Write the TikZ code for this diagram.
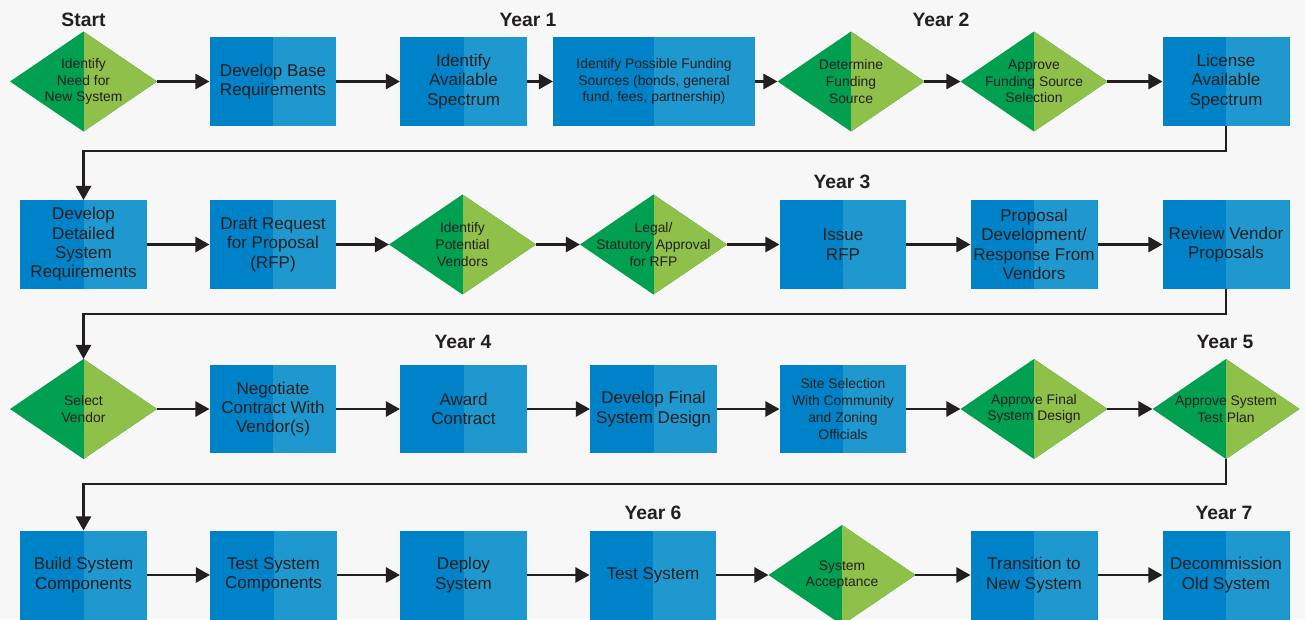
\documentclass[tikz,border=0pt]{standalone}
\usepackage{fontspec}
\setmainfont{Liberation Sans}
\usetikzlibrary{shapes.geometric,arrows.meta}
\definecolor{bluedk}{HTML}{0082C8}
\definecolor{bluelt}{HTML}{1E98CE}
\definecolor{greendk}{HTML}{00A050}
\definecolor{greenlt}{HTML}{8EC04A}
\definecolor{ink}{HTML}{231F20}
\definecolor{paper}{HTML}{F7F7F7}
\begin{document}
\begin{tikzpicture}[x=0.02cm,y=-0.02cm,
  box/.style={rectangle,fill=bluedk,minimum width=2.54cm,minimum height=1.78cm,
    inner sep=0pt,outer sep=0pt,align=center,text=ink,font=\fontsize{9.7}{11}\selectfont,
    path picture={\fill[bluelt] (path picture bounding box.north) rectangle (path picture bounding box.south east);}},
  dia/.style={diamond,fill=greendk,minimum width=2.94cm,minimum height=2cm,
    inner sep=-14pt,outer sep=0pt,align=center,text=ink,font=\fontsize{7.9}{9.5}\selectfont,
    path picture={\fill[greenlt] (path picture bounding box.north) rectangle (path picture bounding box.south east);}},
  smalltext/.style={font=\fontsize{7.9}{9.5}\selectfont},
  yearlbl/.style={anchor=base,text=ink,font=\fontsize{11}{13}\selectfont\bfseries},
  flow/.style={draw=ink,line width=1.6pt,-{Triangle[length=8pt,width=8.5pt]}}]

  % background
  \fill[paper] (0,0) rectangle (1305,619);
  \useasboundingbox (0,0) rectangle (1305,619);

  % year labels
  \node[yearlbl] (start) at (83.5,26) {Start};
  \node[yearlbl] (yr1) at (528,26) {Year 1};
  \node[yearlbl] (yr2) at (941,26) {Year 2};
  \node[yearlbl] (yr3) at (842,188) {Year 3};
  \node[yearlbl] (yr4) at (463,348) {Year 4};
  \node[yearlbl] (yr5) at (1225,348) {Year 5};
  \node[yearlbl] (yr6) at (653,519) {Year 6};
  \node[yearlbl] (yr7) at (1224,519) {Year 7};

  % row 1
  \node[dia] (need) at (83.5,81.5) {Identify\\Need for\\New System};
  \node[box] (basereq) at (273,81.5) {Develop Base\\Requirements};
  \node[box] (spectrum) at (463.5,81.5) {Identify\\Available\\Spectrum};
  \node[box,smalltext,minimum width=4.04cm] (funding) at (654,81.5) {Identify Possible Funding\\Sources (bonds, general\\fund, fees, partnership)};
  \node[dia] (detfund) at (851,81.5) {Determine\\Funding\\Source};
  \node[dia] (appfund) at (1034,81.5) {Approve\\Funding Source\\Selection};
  \node[box] (license) at (1226,81.5) {License\\Available\\Spectrum};

  % row 2
  \node[box] (detreq) at (83.5,244.5) {Develop\\Detailed\\System\\Requirements};
  \node[box] (draftrfp) at (273,244.5) {Draft Request\\for Proposal\\(RFP)};
  \node[dia] (potvend) at (462.5,244.5) {Identify\\Potential\\Vendors};
  \node[dia] (legal) at (653.5,244.5) {Legal/\\Statutory Approval\\for RFP};
  \node[box] (issue) at (843,244.5) {Issue\\RFP};
  \node[box] (propdev) at (1034,244.5) {Proposal\\Development/\\Response From\\Vendors};
  \node[box] (review) at (1226,244.5) {Review Vendor\\Proposals};

  % row 3
  \node[dia] (selvend) at (83.5,409) {Select\\Vendor};
  \node[box] (negot) at (273,409) {Negotiate\\Contract With\\Vendor(s)};
  \node[box] (award) at (463.5,409) {Award\\Contract};
  \node[box] (finaldes) at (653.5,409) {Develop Final\\System Design};
  \node[box,smalltext] (site) at (843,409) {Site Selection\\With Community\\and Zoning\\Officials};
  \node[dia] (appdes) at (1034,409) {Approve Final\\System Design};
  \node[dia] (apptest) at (1226,409) {Approve System\\Test Plan};

  % row 4
  \node[box] (build) at (83.5,575) {Build System\\Components};
  \node[box] (testcomp) at (273.5,575) {Test System\\Components};
  \node[box] (deploy) at (463.5,575) {Deploy\\System};
  \node[box] (testsys) at (653,575) {Test System};
  \node[dia] (accept) at (842,575) {System\\Acceptance};
  \node[box] (transition) at (1034,575) {Transition to\\New System};
  \node[box] (decom) at (1226,575) {Decommission\\Old System};

  % arrows, row 1
  \draw[flow] (need.east) -- (basereq.west);
  \draw[flow] (basereq.east) -- (spectrum.west);
  \draw[flow] (spectrum.east) -- (funding.west);
  \draw[flow] (funding.east) -- (detfund.west);
  \draw[flow] (detfund.east) -- (appfund.west);
  \draw[flow] (appfund.east) -- (license.west);
  \draw[flow] (license.south) -- ++(0,25) -| (detreq.north);

  % arrows, row 2
  \draw[flow] (detreq.east) -- (draftrfp.west);
  \draw[flow] (draftrfp.east) -- (potvend.west);
  \draw[flow] (potvend.east) -- (legal.west);
  \draw[flow] (legal.east) -- (issue.west);
  \draw[flow] (issue.east) -- (propdev.west);
  \draw[flow] (propdev.east) -- (review.west);
  \draw[flow] (review.south) -- ++(0,25) -| (selvend.north);

  % arrows, row 3
  \draw[flow] (selvend.east) -- (negot.west);
  \draw[flow] (negot.east) -- (award.west);
  \draw[flow] (award.east) -- (finaldes.west);
  \draw[flow] (finaldes.east) -- (site.west);
  \draw[flow] (site.east) -- (appdes.west);
  \draw[flow] (appdes.east) -- (apptest.west);
  \draw[flow] (apptest.south) -- ++(0,25) -| (build.north);

  % arrows, row 4
  \draw[flow] (build.east) -- (testcomp.west);
  \draw[flow] (testcomp.east) -- (deploy.west);
  \draw[flow] (deploy.east) -- (testsys.west);
  \draw[flow] (testsys.east) -- (accept.west);
  \draw[flow] (accept.east) -- (transition.west);
  \draw[flow] (transition.east) -- (decom.west);
\end{tikzpicture}
\end{document}
